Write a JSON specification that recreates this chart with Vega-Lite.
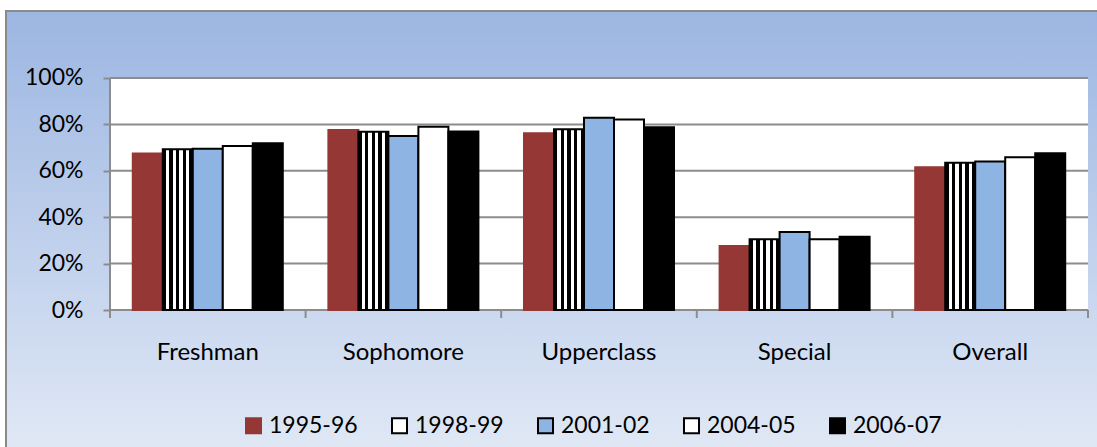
{
  "$schema": "https://vega.github.io/schema/vega-lite/v6.json",
  "width": 1094,
  "height": 439,
  "padding": {"left": 6, "top": 11, "right": -3, "bottom": -3},
  "autosize": {"type": "none"},
  "background": "white",
  "config": {
    "font": "Lato",
    "view": {
      "fill": {"gradient": "linear", "x1": 0, "y1": 0, "x2": 0, "y2": 1, "stops": [{"offset": 0, "color": "#9cb6e2"}, {"offset": 1, "color": "#e0e8f5"}]},
      "stroke": "#8a8a8a",
      "strokeWidth": 2
    },
    "legend": {
      "orient": "none",
      "legendX": 236,
      "legendY": 403,
      "direction": "horizontal",
      "symbolType": "square",
      "symbolSize": 225,
      "symbolStrokeWidth": 2,
      "labelFontSize": 23,
      "labelColor": "black",
      "labelOffset": 4,
      "columnPadding": 30,
      "padding": 0
    }
  },
  "datasets": {
    "rates": [
      {"category": "Freshman", "series": "1995-96", "rate": 0.675},
      {"category": "Freshman", "series": "1998-99", "rate": 0.693},
      {"category": "Freshman", "series": "2001-02", "rate": 0.695},
      {"category": "Freshman", "series": "2004-05", "rate": 0.707},
      {"category": "Freshman", "series": "2006-07", "rate": 0.719},
      {"category": "Sophomore", "series": "1995-96", "rate": 0.776},
      {"category": "Sophomore", "series": "1998-99", "rate": 0.768},
      {"category": "Sophomore", "series": "2001-02", "rate": 0.750},
      {"category": "Sophomore", "series": "2004-05", "rate": 0.790},
      {"category": "Sophomore", "series": "2006-07", "rate": 0.769},
      {"category": "Upperclass", "series": "1995-96", "rate": 0.762},
      {"category": "Upperclass", "series": "1998-99", "rate": 0.779},
      {"category": "Upperclass", "series": "2001-02", "rate": 0.829},
      {"category": "Upperclass", "series": "2004-05", "rate": 0.821},
      {"category": "Upperclass", "series": "2006-07", "rate": 0.788},
      {"category": "Special", "series": "1995-96", "rate": 0.276},
      {"category": "Special", "series": "1998-99", "rate": 0.305},
      {"category": "Special", "series": "2001-02", "rate": 0.336},
      {"category": "Special", "series": "2004-05", "rate": 0.305},
      {"category": "Special", "series": "2006-07", "rate": 0.316},
      {"category": "Overall", "series": "1995-96", "rate": 0.615},
      {"category": "Overall", "series": "1998-99", "rate": 0.635},
      {"category": "Overall", "series": "2001-02", "rate": 0.640},
      {"category": "Overall", "series": "2004-05", "rate": 0.658},
      {"category": "Overall", "series": "2006-07", "rate": 0.676}
    ],
    "grid": [{"g": 0}, {"g": 0.2}, {"g": 0.4}, {"g": 0.6}, {"g": 0.8}, {"g": 1}],
    "cats": [{"c": "Freshman"}, {"c": "Sophomore"}, {"c": "Upperclass"}, {"c": "Special"}, {"c": "Overall"}],
    "one": [{"k": "plot"}]
  },
  "layer": [
    {
      "data": {"name": "one"},
      "mark": {"type": "rect", "fill": "white"},
      "encoding": {
        "x": {"datum": "Freshman", "type": "nominal", "bandPosition": -0.152},
        "x2": {"datum": "Overall", "bandPosition": 1.152},
        "y": {"datum": 0, "type": "quantitative"},
        "y2": {"datum": 1}
      }
    },
    {
      "data": {"name": "grid"},
      "mark": {"type": "rule", "color": "#8c8c8c", "strokeWidth": 2},
      "encoding": {
        "x": {"datum": "Freshman", "type": "nominal", "bandPosition": -0.152},
        "x2": {"datum": "Overall", "bandPosition": 1.152},
        "y": {"field": "g", "type": "quantitative"}
      }
    },
    {
      "data": {"name": "rates"},
      "mark": {"type": "bar", "strokeWidth": 2},
      "encoding": {
        "x": {
          "field": "category", "type": "nominal",
          "scale": {"domain": ["Freshman", "Sophomore", "Upperclass", "Special", "Overall"], "paddingInner": 0.2331, "paddingOuter": 0.413, "align": 0.7847},
          "axis": {"title": null, "orient": "bottom", "offset": -140, "ticks": false, "domain": false, "grid": false, "bandPosition": 0.5, "labelAlign": "center", "labelFlush": false, "labelOverlap": false, "labelBound": false, "labelFontSize": 24, "labelColor": "black", "labelPadding": 42, "labelAngle": 0}
        },
        "xOffset": {
          "field": "series", "type": "nominal",
          "scale": {"domain": ["1995-96", "1998-99", "2001-02", "2004-05", "2006-07"], "paddingInner": 0, "paddingOuter": 0}
        },
        "y": {
          "field": "rate", "type": "quantitative",
          "scale": {"domain": [-0.603448, 1.288793], "nice": false, "zero": false},
          "axis": {"title": null, "orient": "left", "offset": -104, "values": [0, 0.2, 0.4, 0.6, 0.8, 1], "format": ".0%", "grid": false, "domain": false, "tickSize": 7, "tickWidth": 2, "tickColor": "#8c8c8c", "labelFontSize": 23, "labelColor": "black", "labelPadding": 20}
        },
        "color": {
          "field": "series", "type": "nominal",
          "condition": {
            "test": "datum.series === '1998-99'",
            "value": {"gradient": "linear", "x1": 0, "y1": 0, "x2": 1, "y2": 0, "stops": [
              {"offset": 0, "color": "black"}, {"offset": 0.1111, "color": "black"},
              {"offset": 0.1111, "color": "white"}, {"offset": 0.2222, "color": "white"},
              {"offset": 0.2222, "color": "black"}, {"offset": 0.3333, "color": "black"},
              {"offset": 0.3333, "color": "white"}, {"offset": 0.4444, "color": "white"},
              {"offset": 0.4444, "color": "black"}, {"offset": 0.5556, "color": "black"},
              {"offset": 0.5556, "color": "white"}, {"offset": 0.6667, "color": "white"},
              {"offset": 0.6667, "color": "black"}, {"offset": 0.7778, "color": "black"},
              {"offset": 0.7778, "color": "white"}, {"offset": 0.8889, "color": "white"},
              {"offset": 0.8889, "color": "black"}, {"offset": 1, "color": "black"}
            ]}
          },
          "scale": {
            "domain": ["1995-96", "1998-99", "2001-02", "2004-05", "2006-07"],
            "range": ["#953735", "white", "#8eb4e3", "white", "black"]
          },
          "legend": {"title": null}
        },
        "stroke": {
          "field": "series", "type": "nominal",
          "scale": {"domain": ["1995-96", "1998-99", "2001-02", "2004-05", "2006-07"], "range": ["#953735", "black", "black", "black", "black"]},
          "legend": {"title": null}
        }
      }
    },
    {
      "data": {"name": "one"},
      "mark": {"type": "rule", "color": "#8c8c8c", "strokeWidth": 2},
      "encoding": {
        "x": {"datum": "Freshman", "type": "nominal", "bandPosition": -0.152},
        "y": {"datum": -0.0345, "type": "quantitative"},
        "y2": {"datum": 1}
      }
    },
    {
      "data": {"name": "cats"},
      "mark": {"type": "rule", "color": "#8c8c8c", "strokeWidth": 2},
      "encoding": {
        "x": {"field": "c", "type": "nominal", "bandPosition": -0.152},
        "y": {"datum": 0, "type": "quantitative"},
        "y2": {"datum": -0.0345}
      }
    },
    {
      "data": {"name": "one"},
      "mark": {"type": "rule", "color": "#8c8c8c", "strokeWidth": 2},
      "encoding": {
        "x": {"datum": "Overall", "type": "nominal", "bandPosition": 1.152},
        "y": {"datum": 0, "type": "quantitative"},
        "y2": {"datum": -0.0345}
      }
    }
  ]
}
